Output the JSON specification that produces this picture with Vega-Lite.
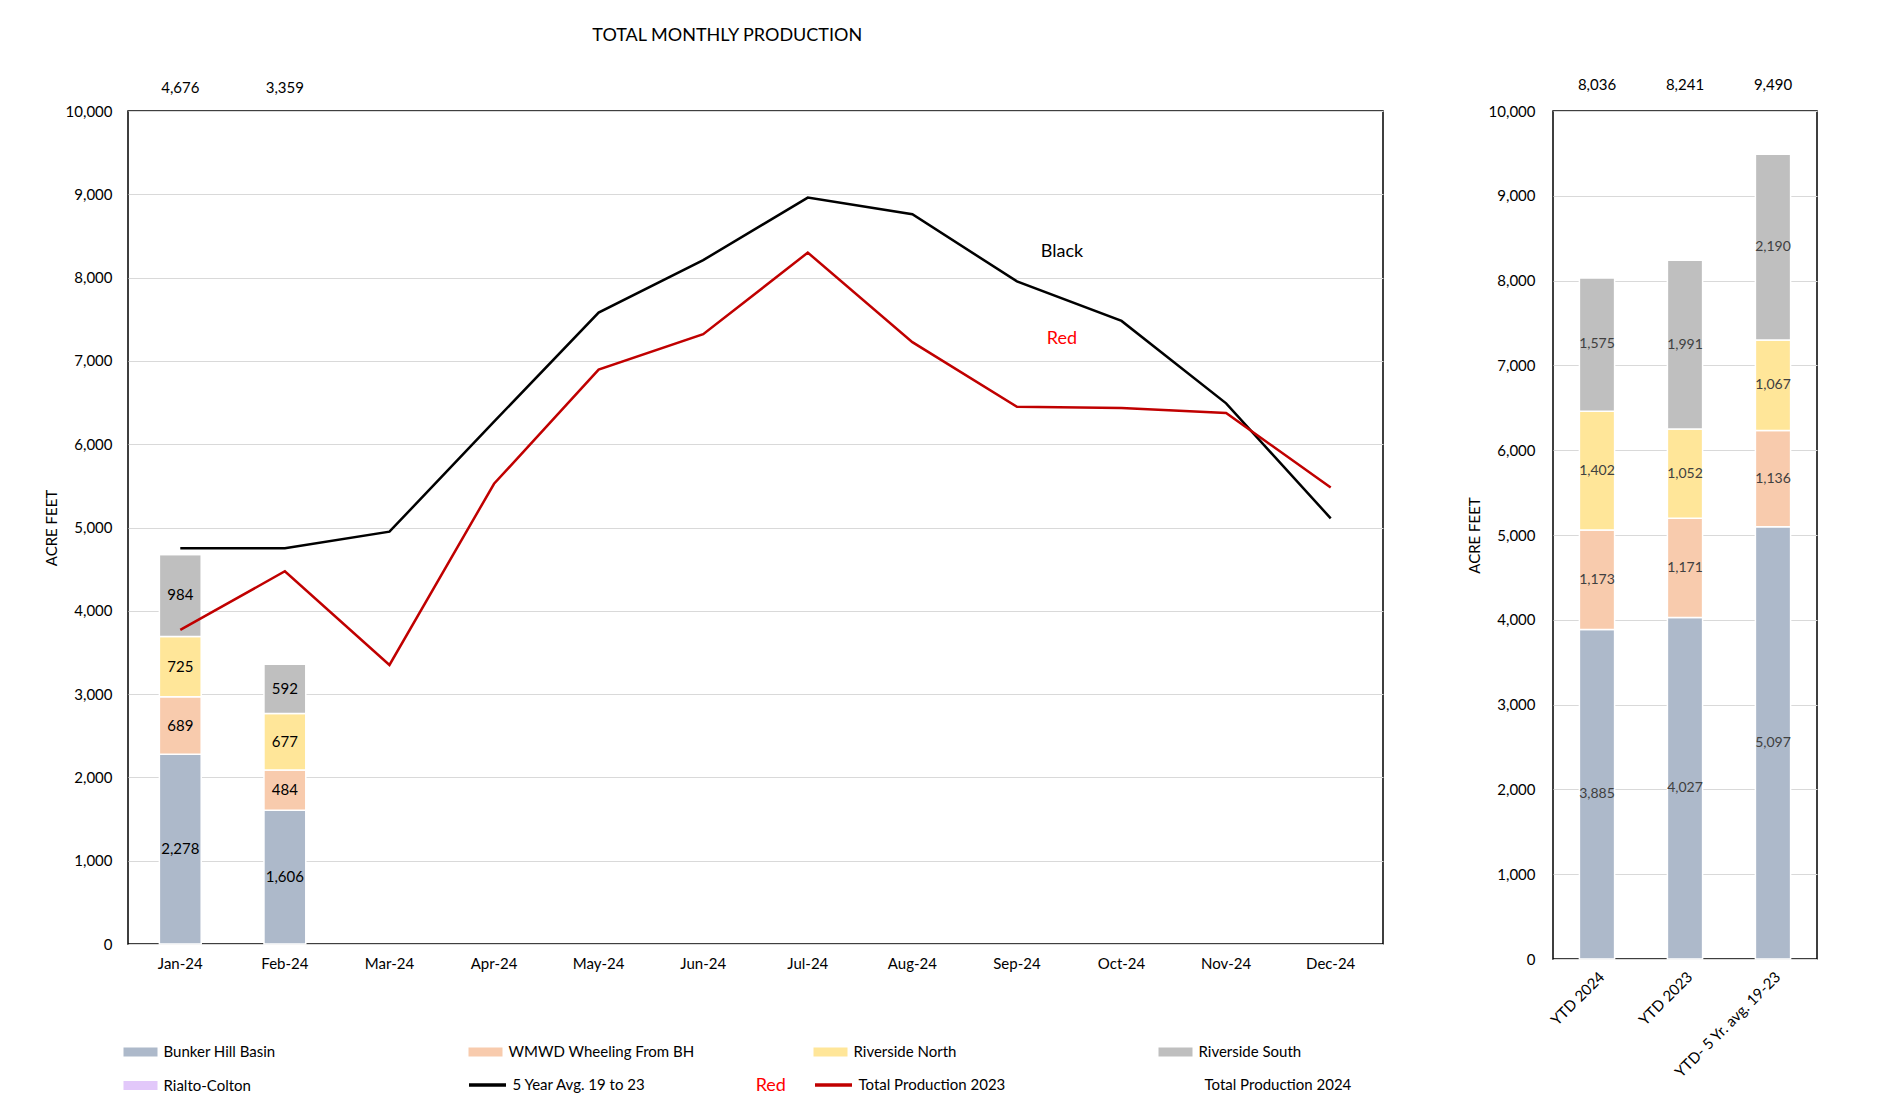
{
  "$schema": "https://vega.github.io/schema/vega-lite/v6.json",
  "background": "white",
  "padding": {"left": 43, "top": 27, "right": 6, "bottom": 0},
  "title": {"text": "TOTAL MONTHLY PRODUCTION", "font": "Lato", "fontSize": 18, "fontWeight": "normal", "color": "black", "anchor": "start", "dx": 549, "offset": 32},
  "config": {
    "font": "Lato",
    "view": {"stroke": "black", "strokeWidth": 1.5},
    "axis": {"labelFont": "Lato", "labelFontSize": 15, "labelColor": "black", "titleFont": "Lato", "titleFontSize": 15, "titleFontWeight": "normal", "titleColor": "black", "ticks": false, "domain": false, "gridColor": "#d9d9d9", "gridWidth": 1},
    "legend": {"labelFont": "Lato", "labelFontSize": 15, "labelColor": "black", "labelLimit": 400, "title": null}
  },
  "datasets": {
    "monthly": [
      {"month": "Jan-24", "series": "Bunker Hill Basin", "value": 2278},
      {"month": "Jan-24", "series": "WMWD Wheeling From BH", "value": 689},
      {"month": "Jan-24", "series": "Riverside North", "value": 725},
      {"month": "Jan-24", "series": "Riverside South", "value": 984},
      {"month": "Jan-24", "series": "Rialto-Colton", "value": 0},
      {"month": "Feb-24", "series": "Bunker Hill Basin", "value": 1606},
      {"month": "Feb-24", "series": "WMWD Wheeling From BH", "value": 484},
      {"month": "Feb-24", "series": "Riverside North", "value": 677},
      {"month": "Feb-24", "series": "Riverside South", "value": 592},
      {"month": "Feb-24", "series": "Rialto-Colton", "value": 0}
    ],
    "totals": [
      {"month": "Jan-24", "total": 4676},
      {"month": "Feb-24", "total": 3359}
    ],
    "lines": [
      {"month": "Jan-24", "series": "5 Year Avg. 19 to 23", "value": 4750},
      {"month": "Feb-24", "series": "5 Year Avg. 19 to 23", "value": 4750},
      {"month": "Mar-24", "series": "5 Year Avg. 19 to 23", "value": 4950},
      {"month": "Apr-24", "series": "5 Year Avg. 19 to 23", "value": 6270},
      {"month": "May-24", "series": "5 Year Avg. 19 to 23", "value": 7580},
      {"month": "Jun-24", "series": "5 Year Avg. 19 to 23", "value": 8210},
      {"month": "Jul-24", "series": "5 Year Avg. 19 to 23", "value": 8960},
      {"month": "Aug-24", "series": "5 Year Avg. 19 to 23", "value": 8760},
      {"month": "Sep-24", "series": "5 Year Avg. 19 to 23", "value": 7955},
      {"month": "Oct-24", "series": "5 Year Avg. 19 to 23", "value": 7480},
      {"month": "Nov-24", "series": "5 Year Avg. 19 to 23", "value": 6490},
      {"month": "Dec-24", "series": "5 Year Avg. 19 to 23", "value": 5110},
      {"month": "Jan-24", "series": "Total Production 2023", "value": 3770},
      {"month": "Feb-24", "series": "Total Production 2023", "value": 4475},
      {"month": "Mar-24", "series": "Total Production 2023", "value": 3350},
      {"month": "Apr-24", "series": "Total Production 2023", "value": 5525},
      {"month": "May-24", "series": "Total Production 2023", "value": 6895},
      {"month": "Jun-24", "series": "Total Production 2023", "value": 7320},
      {"month": "Jul-24", "series": "Total Production 2023", "value": 8300},
      {"month": "Aug-24", "series": "Total Production 2023", "value": 7225},
      {"month": "Sep-24", "series": "Total Production 2023", "value": 6450},
      {"month": "Oct-24", "series": "Total Production 2023", "value": 6435},
      {"month": "Nov-24", "series": "Total Production 2023", "value": 6375},
      {"month": "Dec-24", "series": "Total Production 2023", "value": 5480}
    ],
    "notes": [
      {"month": "Sep-24", "value": 8310, "label": "Black"},
      {"month": "Sep-24", "value": 7260, "label": "Red"}
    ],
    "ytd": [
      {"cat": "YTD 2024", "series": "Bunker Hill Basin", "value": 3885},
      {"cat": "YTD 2024", "series": "WMWD Wheeling From BH", "value": 1173},
      {"cat": "YTD 2024", "series": "Riverside North", "value": 1402},
      {"cat": "YTD 2024", "series": "Riverside South", "value": 1575},
      {"cat": "YTD 2024", "series": "Rialto-Colton", "value": 1},
      {"cat": "YTD 2023", "series": "Bunker Hill Basin", "value": 4027},
      {"cat": "YTD 2023", "series": "WMWD Wheeling From BH", "value": 1171},
      {"cat": "YTD 2023", "series": "Riverside North", "value": 1052},
      {"cat": "YTD 2023", "series": "Riverside South", "value": 1991},
      {"cat": "YTD 2023", "series": "Rialto-Colton", "value": 0},
      {"cat": "YTD- 5 Yr. avg. 19-23", "series": "Bunker Hill Basin", "value": 5097},
      {"cat": "YTD- 5 Yr. avg. 19-23", "series": "WMWD Wheeling From BH", "value": 1136},
      {"cat": "YTD- 5 Yr. avg. 19-23", "series": "Riverside North", "value": 1067},
      {"cat": "YTD- 5 Yr. avg. 19-23", "series": "Riverside South", "value": 2190},
      {"cat": "YTD- 5 Yr. avg. 19-23", "series": "Rialto-Colton", "value": 0}
    ],
    "ytdTotals": [
      {"cat": "YTD 2024", "total": 8036},
      {"cat": "YTD 2023", "total": 8241},
      {"cat": "YTD- 5 Yr. avg. 19-23", "total": 9490}
    ]
  },
  "spacing": 82,
  "hconcat": [
    {
      "width": 1255,
      "height": 833,
      "layer": [
        {
          "data": {"name": "monthly"},
          "transform": [
            {"calculate": "indexof(['Bunker Hill Basin','WMWD Wheeling From BH','Riverside North','Riverside South','Rialto-Colton'], datum.series)", "as": "ord"},
            {"stack": "value", "groupby": ["month"], "sort": [{"field": "ord", "order": "ascending"}], "as": ["v0", "v1"]}
          ],
          "mark": {"type": "bar", "stroke": "white", "strokeWidth": 1.5},
          "encoding": {
            "x": {"field": "month", "type": "nominal", "title": null,
                  "scale": {"domain": ["Jan-24","Feb-24","Mar-24","Apr-24","May-24","Jun-24","Jul-24","Aug-24","Sep-24","Oct-24","Nov-24","Dec-24"], "paddingInner": 0.6, "paddingOuter": 0.3},
                  "axis": {"labelAngle": 0, "labelPadding": 12, "grid": false}},
            "y": {"field": "v1", "type": "quantitative", "title": "ACRE FEET",
                  "scale": {"domain": [0, 10000], "nice": false},
                  "axis": {"values": [0,1000,2000,3000,4000,5000,6000,7000,8000,9000,10000], "format": ",.0f", "labelPadding": 16, "titlePadding": 6, "grid": true}},
            "y2": {"field": "v0"},
            "fill": {"field": "series", "type": "nominal",
                     "scale": {"domain": ["Bunker Hill Basin","WMWD Wheeling From BH","Riverside North","Riverside South","Rialto-Colton"],
                               "range": ["#ADB9CA","#F8CBAD","#FFE699","#BFBFBF","#E2C8FA"]},
                     "legend": {
                       "orient": "none", "legendX": 2.5, "legendY": 931, "direction": "horizontal", "columns": 4,
                       "columnPadding": 119, "rowPadding": 15.5, "gridAlign": "all",
                       "symbolSize": 400, "symbolType": "M-1.7,-0.45H1.7V0.45H-1.7Z", "symbolStrokeWidth": 0, "labelOffset": 13
                     }}
          }
        },
        {
          "data": {"name": "monthly"},
          "transform": [
            {"calculate": "indexof(['Bunker Hill Basin','WMWD Wheeling From BH','Riverside North','Riverside South','Rialto-Colton'], datum.series)", "as": "ord"},
            {"stack": "value", "groupby": ["month"], "sort": [{"field": "ord", "order": "ascending"}], "as": ["v0", "v1"]},
            {"calculate": "(datum.v0 + datum.v1) / 2", "as": "mid"},
            {"filter": "datum.value > 0"}
          ],
          "mark": {"type": "text", "font": "Lato", "fontSize": 15, "color": "black", "baseline": "middle"},
          "encoding": {
            "x": {"field": "month", "type": "nominal", "title": null, "bandPosition": 0.5},
            "y": {"field": "mid", "type": "quantitative", "title": "ACRE FEET"},
            "text": {"field": "value", "type": "quantitative", "format": ",.0f"}
          }
        },
        {
          "data": {"name": "totals"},
          "mark": {"type": "text", "font": "Lato", "fontSize": 15, "color": "black", "baseline": "middle", "dy": -23},
          "encoding": {
            "x": {"field": "month", "type": "nominal", "title": null, "bandPosition": 0.5},
            "y": {"datum": 10000, "type": "quantitative", "title": "ACRE FEET"},
            "text": {"field": "total", "type": "quantitative", "format": ",.0f"}
          }
        },
        {
          "data": {"name": "lines"},
          "mark": {"type": "line", "strokeWidth": 2.5},
          "encoding": {
            "x": {"field": "month", "type": "nominal", "title": null, "bandPosition": 0.5},
            "y": {"field": "value", "type": "quantitative", "title": "ACRE FEET"},
            "stroke": {"field": "series", "type": "nominal",
                       "scale": {"domain": ["5 Year Avg. 19 to 23","Total Production 2023","Total Production 2024"], "range": ["#000000","#C00000","#FFFFFF"]},
                       "legend": {
                         "orient": "none", "legendX": 347.5, "legendY": 962, "direction": "horizontal", "columns": 3,
                         "columnPadding": 148, "rowPadding": 0, "gridAlign": "all",
                         "symbolSize": 400, "symbolType": "M-1.85,0H1.85", "symbolStrokeWidth": 3.5, "labelOffset": 13
                       }}
          }
        },
        {
          "data": {"name": "notes"},
          "mark": {"type": "text", "font": "Lato", "fontSize": 18, "baseline": "middle", "dx": 45},
          "encoding": {
            "x": {"field": "month", "type": "nominal", "title": null, "bandPosition": 0.5},
            "y": {"field": "value", "type": "quantitative", "title": "ACRE FEET"},
            "text": {"field": "label"},
            "color": {"condition": {"test": "datum.label === 'Red'", "value": "#FF0000"}, "value": "#000000"}
          }
        },
        {
          "data": {"values": [{"label": "Red"}]},
          "mark": {"type": "text", "font": "Lato", "fontSize": 18, "baseline": "middle", "color": "#FF0000", "dx": -37, "dy": 142},
          "encoding": {
            "x": {"datum": "Jul-24", "bandPosition": 0.5},
            "y": {"datum": 0, "type": "quantitative"},
            "text": {"field": "label"}
          }
        }
      ]
    },
    {
      "width": 264,
      "height": 848,
      "layer": [
        {
          "data": {"name": "ytd"},
          "transform": [
            {"calculate": "indexof(['Bunker Hill Basin','WMWD Wheeling From BH','Riverside North','Riverside South','Rialto-Colton'], datum.series)", "as": "ord"},
            {"stack": "value", "groupby": ["cat"], "sort": [{"field": "ord", "order": "ascending"}], "as": ["v0", "v1"]}
          ],
          "mark": {"type": "bar", "stroke": "white", "strokeWidth": 1.5},
          "encoding": {
            "x": {"field": "cat", "type": "nominal", "title": null,
                  "scale": {"domain": ["YTD 2024","YTD 2023","YTD- 5 Yr. avg. 19-23"], "paddingInner": 0.6, "paddingOuter": 0.3},
                  "axis": {"labelAngle": -45, "labelPadding": 10, "grid": false}},
            "y": {"field": "v1", "type": "quantitative", "title": "ACRE FEET",
                  "scale": {"domain": [0, 10000], "nice": false},
                  "axis": {"values": [0,1000,2000,3000,4000,5000,6000,7000,8000,9000,10000], "format": ",.0f", "labelPadding": 18, "titlePadding": 6, "grid": true}},
            "y2": {"field": "v0"},
            "fill": {"field": "series", "type": "nominal"}
          }
        },
        {
          "data": {"name": "ytd"},
          "transform": [
            {"calculate": "indexof(['Bunker Hill Basin','WMWD Wheeling From BH','Riverside North','Riverside South','Rialto-Colton'], datum.series)", "as": "ord"},
            {"stack": "value", "groupby": ["cat"], "sort": [{"field": "ord", "order": "ascending"}], "as": ["v0", "v1"]},
            {"calculate": "(datum.v0 + datum.v1) / 2", "as": "mid"},
            {"filter": "datum.series !== 'Rialto-Colton'"}
          ],
          "mark": {"type": "text", "font": "Lato", "fontSize": 14, "color": "#404040", "baseline": "middle"},
          "encoding": {
            "x": {"field": "cat", "type": "nominal", "title": null, "bandPosition": 0.5},
            "y": {"field": "mid", "type": "quantitative", "title": "ACRE FEET"},
            "text": {"field": "value", "type": "quantitative", "format": ",.0f"}
          }
        },
        {
          "data": {"name": "ytdTotals"},
          "mark": {"type": "text", "font": "Lato", "fontSize": 15, "color": "black", "baseline": "middle", "dy": -26},
          "encoding": {
            "x": {"field": "cat", "type": "nominal", "title": null, "bandPosition": 0.5},
            "y": {"datum": 10000, "type": "quantitative", "title": "ACRE FEET"},
            "text": {"field": "total", "type": "quantitative", "format": ",.0f"}
          }
        }
      ]
    }
  ]
}
